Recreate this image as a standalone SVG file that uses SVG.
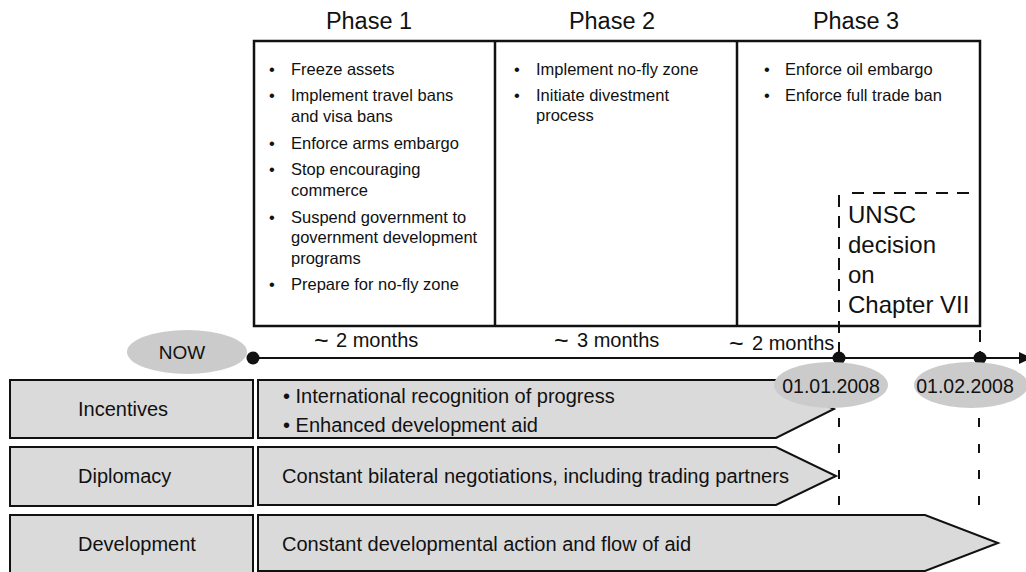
<svg xmlns="http://www.w3.org/2000/svg" width="1026" height="572" viewBox="0 0 1026 572">
<style>
text{font-family:"Liberation Sans",Arial,sans-serif;fill:#111}
.title{font-size:23.5px;text-anchor:middle}
.bul{font-size:16.5px}
.lbl{font-size:20px}
.mon{font-size:20px}
.tl{font-size:25px}
.box{fill:#dadadb;stroke:#111;stroke-width:2}
.ell{fill:#cbcbcb;stroke:none}
.dash{fill:none;stroke:#111;stroke-width:2;stroke-dasharray:12 9}
.dash2{fill:none;stroke:#111;stroke-width:2;stroke-dasharray:9 17}
</style>
<g id="phases">
<text class="title" x="369" y="29">Phase 1</text>
<text class="title" x="612" y="29">Phase 2</text>
<text class="title" x="856" y="29">Phase 3</text>
<rect x="254" y="41" width="726" height="285" fill="#fff" stroke="#111" stroke-width="2.5"/>
<line x1="495" y1="41" x2="495" y2="326" stroke="#111" stroke-width="2.5"/>
<line x1="737" y1="41" x2="737" y2="326" stroke="#111" stroke-width="2.5"/>
</g>
<g id="phase1" class="bul">
<text x="269" y="75">•</text><text x="291" y="75">Freeze assets</text>
<text x="269" y="101">•</text><text x="291" y="101">Implement travel bans</text>
<text x="291" y="122">and visa bans</text>
<text x="269" y="149">•</text><text x="291" y="149">Enforce arms embargo</text>
<text x="269" y="175">•</text><text x="291" y="175">Stop encouraging</text>
<text x="291" y="196">commerce</text>
<text x="269" y="223">•</text><text x="291" y="223">Suspend government to</text>
<text x="291" y="243">government development</text>
<text x="291" y="264">programs</text>
<text x="269" y="290">•</text><text x="291" y="290">Prepare for no-fly zone</text>
</g>
<g id="phase2" class="bul">
<text x="514" y="75">•</text><text x="536" y="75">Implement no-fly zone</text>
<text x="514" y="101">•</text><text x="536" y="101">Initiate divestment</text>
<text x="536" y="121">process</text>
</g>
<g id="phase3" class="bul">
<text x="764" y="75">•</text><text x="785" y="75">Enforce oil embargo</text>
<text x="764" y="101">•</text><text x="785" y="101">Enforce full trade ban</text>
</g>
<g id="unsc">
<line class="dash" x1="852" y1="193" x2="978" y2="193"/>
<line class="dash" x1="839" y1="195" x2="839" y2="352"/>
<line class="dash" x1="980" y1="330" x2="980" y2="352"/>
<text x="848" y="223" font-size="24">UNSC</text>
<text x="848" y="253" font-size="24">decision</text>
<text x="848" y="283" font-size="24">on</text>
<text x="848" y="313" font-size="24">Chapter VII</text>
</g>
<g id="connectors">
<line x1="253" y1="358" x2="1021" y2="358" stroke="#111" stroke-width="2"/>
<polygon points="1019,352 1032,358 1019,364" fill="#111"/>
<line class="dash2" x1="839" y1="418" x2="839" y2="510"/>
<line class="dash2" x1="979" y1="418" x2="979" y2="516"/>
</g>
<g id="timeline-labels" class="mon">
<text y="347"><tspan class="tl" x="314" y="349">~</tspan><tspan x="336" y="347">2 months</tspan></text>
<text y="347"><tspan class="tl" x="554" y="349">~</tspan><tspan x="577" y="347">3 months</tspan></text>
<text y="350"><tspan class="tl" x="729" y="352">~</tspan><tspan x="752" y="350">2 months</tspan></text>
</g>
<g id="now">
<ellipse class="ell" cx="187" cy="352" rx="60" ry="22"/>
<text x="182" y="359" font-size="19" text-anchor="middle">NOW</text>
<circle cx="253" cy="358" r="6.5" fill="#111"/>
</g>
<g id="date1">
<circle cx="839" cy="358" r="6.5" fill="#111"/>
</g>
<g id="date2">
<circle cx="980" cy="358" r="6.5" fill="#111"/>
</g>
<g id="incentives">
<rect class="box" x="10" y="380" width="243" height="58"/>
<text class="lbl" x="78" y="416">Incentives</text>
<polygon class="box" points="258,380 776,380 834,409 776,438 258,438"/>
<text class="lbl" x="283" y="403">• International recognition of progress</text>
<text class="lbl" x="283" y="432">• Enhanced development aid</text>
</g>
<g id="diplomacy">
<rect class="box" x="10" y="447" width="243" height="59"/>
<text class="lbl" x="78" y="483">Diplomacy</text>
<polygon class="box" points="258,447 776,447 836,476 776,505 258,505"/>
<text class="lbl" x="282" y="483" textLength="507" lengthAdjust="spacingAndGlyphs">Constant bilateral negotiations, including trading partners</text>
</g>
<g id="development">
<rect class="box" x="10" y="515" width="243" height="58"/>
<text class="lbl" x="78" y="551">Development</text>
<polygon class="box" points="258,515 925,515 998,543 925,571 258,571"/>
<text class="lbl" x="282" y="551">Constant developmental action and flow of aid</text>
</g>
<g id="date-labels">
<ellipse class="ell" cx="831" cy="385" rx="57" ry="23"/>
<text x="831" y="393" font-size="19.5" text-anchor="middle">01.01.2008</text>
<ellipse class="ell" cx="971" cy="385" rx="57" ry="23"/>
<text x="965" y="393" font-size="19.5" text-anchor="middle">01.02.2008</text>
</g>
</svg>
